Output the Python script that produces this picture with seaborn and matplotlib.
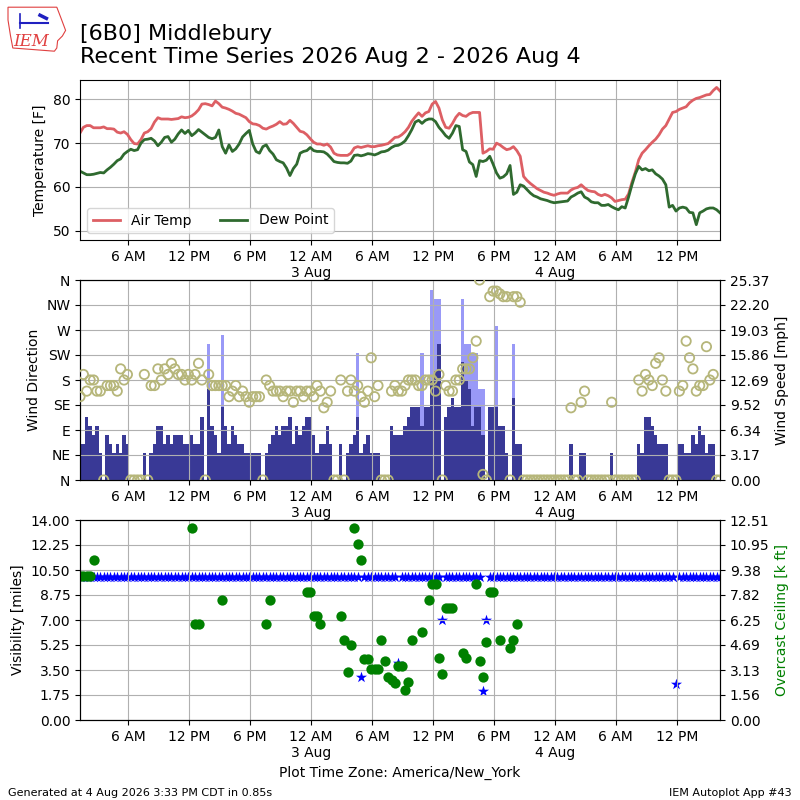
import numpy as np
import pandas as pd
import matplotlib
matplotlib.use("Agg")
import matplotlib.pyplot as plt
import matplotlib.dates as mdates
from matplotlib.ticker import FuncFormatter
from matplotlib.patches import Polygon
from matplotlib.lines import Line2D
import seaborn as sns

# observations every 20 minutes, local time (America/New_York)
START = "2026-08-02 01:15"

TEMP = [
    72.3, 73.6, 74.0, 74.0, 73.5, 73.5, 73.5, 73.7, 73.3, 73.3, 73.2, 72.5, 72.3, 72.6, 72.0, 70.8,
    69.9, 69.8, 70.8, 72.3, 72.6, 73.3, 74.8, 75.8, 75.5, 75.5, 75.5, 75.4, 75.5, 75.6, 76.0, 75.8,
    75.9, 76.2, 76.8, 77.6, 78.9, 79.0, 78.8, 78.5, 79.6, 79.0, 78.2, 78.0, 77.7, 77.3, 76.8, 76.6,
    76.2, 75.8, 74.9, 74.4, 74.3, 74.0, 73.4, 73.2, 73.6, 73.9, 74.3, 74.9, 74.3, 74.4, 75.2, 74.5,
    73.6, 72.7, 72.5, 71.9, 71.0, 70.2, 69.8, 69.8, 69.5, 69.8, 69.1, 67.7, 67.3, 67.2, 67.2, 67.2,
    67.7, 68.9, 69.2, 69.0, 69.2, 69.4, 69.2, 69.2, 69.4, 69.5, 69.7, 69.9, 70.6, 71.3, 71.4, 71.9,
    72.6, 73.6, 75.0, 76.0, 76.9, 76.1, 76.9, 77.2, 78.9, 79.5, 78.0, 75.3, 73.6, 73.4, 74.5, 75.9,
    76.8, 76.3, 76.1, 76.7, 77.0, 77.0, 77.0, 67.7, 68.1, 68.7, 68.6, 70.0, 69.6, 69.0, 68.5, 68.7,
    69.2, 68.3, 67.0, 62.4, 61.5, 60.8, 60.2, 59.6, 59.2, 58.8, 58.6, 58.3, 58.1, 58.4, 58.6, 58.6,
    58.6, 59.3, 59.7, 59.9, 60.5, 59.8, 59.2, 59.0, 58.9, 58.3, 58.0, 58.3, 58.0, 57.5, 56.7, 56.9,
    57.1, 57.2, 58.4, 61.1, 63.4, 66.2, 67.7, 68.5, 69.4, 70.2, 70.9, 71.9, 73.2, 74.0, 75.5, 77.0,
    77.2, 77.7, 78.0, 78.3, 79.2, 79.8, 80.2, 80.4, 80.7, 81.0, 81.1, 82.0, 82.7, 81.9,
]
DEWP = [
    63.6, 63.2, 62.8, 62.8, 62.9, 63.1, 63.3, 63.2, 63.9, 64.5, 65.2, 66.0, 66.4, 67.5, 68.1, 68.6,
    68.3, 68.5, 70.0, 70.8, 70.9, 71.1, 70.5, 69.4, 70.2, 71.3, 71.5, 70.2, 70.9, 72.1, 73.0, 72.2,
    72.9, 71.7, 72.3, 73.1, 72.5, 71.9, 71.3, 71.0, 71.3, 73.0, 69.2, 67.7, 69.6, 68.1, 68.7, 69.8,
    71.4, 72.2, 72.9, 69.8, 68.1, 67.7, 69.2, 69.6, 68.3, 67.5, 66.2, 65.8, 65.5, 64.3, 62.6, 64.2,
    65.2, 67.7, 68.1, 68.3, 69.0, 68.3, 68.1, 68.1, 68.0, 67.5, 66.7, 65.8, 65.6, 65.5, 65.5, 65.4,
    65.9, 67.2, 67.3, 67.1, 67.3, 67.6, 67.5, 67.3, 67.6, 68.0, 68.1, 68.4, 69.0, 69.4, 69.5, 69.9,
    70.5, 71.7, 73.1, 74.8, 75.2, 74.5, 75.2, 75.5, 75.5, 74.9, 73.6, 72.7, 71.7, 71.1, 72.3, 74.0,
    73.8, 68.5, 68.1, 65.7, 65.1, 62.4, 66.0, 65.8, 66.1, 67.0, 65.2, 63.2, 62.0, 62.3, 63.0, 64.9,
    58.3, 58.8, 60.5, 60.2, 59.4, 58.6, 58.0, 57.7, 57.3, 57.1, 56.9, 56.6, 56.4, 56.5, 56.6, 56.7,
    56.8, 57.7, 58.1, 58.6, 58.9, 57.7, 57.3, 56.6, 56.4, 56.4, 55.8, 55.8, 56.0, 55.5, 55.1, 54.8,
    55.5, 55.2, 57.7, 60.5, 63.0, 64.7, 63.9, 64.2, 63.7, 63.9, 63.0, 62.5, 61.8, 60.5, 55.4, 55.8,
    54.5, 55.2, 55.4, 55.2, 54.2, 54.1, 51.4, 54.1, 54.5, 55.0, 55.2, 55.2, 54.8, 54.1,
]
# wind speed [knots]
SKNT = [
    4, 4, 7, 6, 5, 6, 3, 0, 5, 4, 3, 4, 3, 5, 4, 0, 0, 0, 0, 3,
    0, 3, 4, 6, 6, 4, 5, 4, 5, 5, 5, 4, 4, 5, 4, 4, 7, 0, 10, 6,
    5, 3, 8, 6, 4, 6, 5, 4, 4, 3, 3, 3, 3, 3, 0, 3, 4, 5, 6, 5,
    6, 6, 7, 4, 6, 5, 6, 7, 7, 5, 3, 4, 4, 6, 4, 0, 0, 4, 0, 3,
    4, 5, 7, 3, 4, 5, 3, 3, 3, 0, 0, 0, 6, 5, 5, 5, 6, 7, 8, 8,
    8, 6, 8, 8, 11, 12, 15, 0, 7, 8, 9, 8, 8, 13, 11, 10, 6, 8, 8, 5,
    0, 8, 8, 8, 6, 6, 3, 0, 9, 4, 4, 0, 0, 0, 0, 0, 0, 0, 0, 0,
    0, 0, 0, 0, 0, 4, 0, 0, 3, 3, 0, 0, 0, 0, 0, 0, 0, 3, 0, 0,
    0, 0, 0, 0, 0, 4, 3, 7, 7, 6, 5, 4, 4, 4, 0, 0, 0, 4, 4, 3,
    3, 5, 4, 6, 5, 3, 4, 4, 0, 0,
]
# wind direction [deg]
DRCT = [
    150, 190, 160, 180, 180, 160, 160, 0, 170, 170, 170, 160, 200, 180, 190, 0, 0, 0, 0, 190,
    0, 170, 170, 200, 180, 200, 190, 210, 200, 190, 190, 180, 190, 180, 190, 210, 180, 0, 190, 170,
    170, 170, 170, 170, 150, 160, 170, 150, 160, 150, 140, 150, 150, 150, 0, 180, 170, 160, 160, 160,
    150, 160, 160, 140, 160, 160, 150, 160, 160, 150, 170, 160, 130, 140, 160, 0, 0, 180, 0, 160,
    180, 160, 170, 150, 140, 160, 220, 150, 170, 0, 0, 0, 160, 170, 160, 160, 170, 180, 180, 180,
    170, 170, 180, 180, 180, 160, 190, 0, 170, 160, 160, 180, 180, 200, 200, 200, 220, 250, 360, 10,
    0, 330, 340, 340, 335, 330, 330, 0, 330, 330, 320, 0, 0, 0, 0, 0, 0, 0, 0, 0,
    0, 0, 0, 0, 0, 130, 0, 0, 140, 160, 0, 0, 0, 0, 0, 0, 0, 140, 0, 0,
    0, 0, 0, 0, 0, 180, 160, 190, 180, 170, 210, 220, 180, 160, 0, 0, 0, 160, 170, 250,
    220, 200, 160, 170, 170, 240, 180, 190, 0, 0,
]
# observations that reported a gust: index and gust [knots]
GUST_IDX = [38, 42, 82, 101, 104, 105, 106, 113, 114, 115, 116, 117, 118, 119, 123, 128]
GUST_KT = [15, 16, 14, 14, 21, 20, 20, 20, 15, 15, 14, 14, 10, 10, 17, 15]
# visibility [miles]
VIS = [
    10, 10, 10, 10, 10, 10, 10, 10, 10, 10, 10, 10, 10, 10, 10, 10, 10, 10, 10, 10,
    10, 10, 10, 10, 10, 10, 10, 10, 10, 10, 10, 10, 10, 10, 10, 10, 10, 10, 10, 10,
    10, 10, 10, 10, 10, 10, 10, 10, 10, 10, 10, 10, 10, 10, 10, 10, 10, 10, 10, 10,
    10, 10, 10, 10, 10, 10, 10, 10, 10, 10, 10, 10, 10, 10, 10, 10, 10, 10, 10, 10,
    10, 10, 10, 3, 10, 10, 10, 10, 10, 10, 10, 10, 10, 10, 4, 10, 10, 10, 10, 10,
    10, 10, 10, 10, 10, 10, 10, 7, 10, 10, 10, 10, 10, 10, 10, 10, 10, 10, 10, 2,
    7, 10, 10, 10, 10, 10, 10, 10, 10, 10, 10, 10, 10, 10, 10, 10, 10, 10, 10, 10,
    10, 10, 10, 10, 10, 10, 10, 10, 10, 10, 10, 10, 10, 10, 10, 10, 10, 10, 10, 10,
    10, 10, 10, 10, 10, 10, 10, 10, 10, 10, 10, 10, 10, 10, 10, 10, 2.5, 10, 10, 10,
    10, 10, 10, 10, 10, 10, 10, 10, 10, 10,
]
# observations with an overcast layer: index and height [k ft]
CEIL_IDX = [0, 1, 2, 3, 4, 33, 34, 35, 42, 55, 56, 67, 68, 69, 70, 71, 77, 78, 79, 80,
            81, 82, 83, 84, 85, 86, 87, 88, 89, 90, 91, 92, 93, 94, 95, 96, 97, 98, 101, 103,
            104, 105, 106, 107, 108, 109, 110, 113, 114, 117, 118, 119, 120, 121, 122, 124, 127, 128, 129]
CEIL_KFT = [9.0, 9.0, 9.0, 9.0, 10.0, 12.0, 6.0, 6.0, 7.5, 6.0, 7.5, 8.0, 8.0, 6.5, 6.5, 6.0, 6.5, 5.0, 3.0, 4.7,
            12.0, 11.0, 10.0, 3.8, 3.8, 3.2, 3.2, 3.2, 5.0, 3.7, 2.7, 2.5, 2.3, 3.4, 3.4, 1.9, 2.4, 5.0, 5.5, 7.5,
            8.5, 8.5, 3.9, 2.9, 7.0, 7.0, 7.0, 4.2, 3.9, 8.5, 3.7, 2.7, 4.9, 8.0, 8.0, 5.0, 4.5, 5.0, 6.0]

KT2MPH = 1.15078
DIR_LABELS = ["N", "NE", "E", "SE", "S", "SW", "W", "NW", "N"]

times = pd.date_range(START, periods=len(TEMP), freq="20min")
df = pd.DataFrame({"valid": times, "tmpf": TEMP, "dwpf": DEWP,
                   "sknt": SKNT, "drct": DRCT, "vsby": VIS})
df["smph"] = df["sknt"] * KT2MPH
gust = np.full(len(df), np.nan)
gust[GUST_IDX] = GUST_KT
df["gmph"] = gust * KT2MPH
cdf = pd.DataFrame({"valid": times[CEIL_IDX], "ceil": CEIL_KFT})


def time_fmt(x, pos=None):
    dt = mdates.num2date(x)
    lbl = dt.strftime("%-I %p")
    if dt.hour == 0:
        lbl += "\n" + dt.strftime("%-d %b")
    return lbl


def setup_time(ax):
    ax.xaxis.set_major_locator(mdates.HourLocator(byhour=[0, 6, 12, 18]))
    ax.xaxis.set_major_formatter(FuncFormatter(time_fmt))
    ax.set_xlim(times[0], times[-1])
    ax.set_xlabel("")


plt.rcParams["font.family"] = ["DejaVu Sans"]
fig = plt.figure(figsize=(8, 8), dpi=100)

# --- temperature panel
ax1 = fig.add_axes([0.1, 0.7, 0.8, 0.2])
sns.lineplot(data=df, x="valid", y="tmpf", ax=ax1, color="#dd5f64", lw=2, label="Air Temp")
sns.lineplot(data=df, x="valid", y="dwpf", ax=ax1, color="#2f6a2f", lw=2, label="Dew Point")
ax1.set_ylim(47.9, 84.4)
ax1.set_yticks([50, 60, 70, 80])
ax1.set_ylabel("Temperature [F]")
ax1.grid(True)
ax1.legend(loc="lower left", ncol=2)
setup_time(ax1)

# --- wind panel
ax2 = fig.add_axes([0.1, 0.4, 0.8, 0.25])
ax2r = ax2.twinx()
width = 20.0 / 1440.0
ax2r.bar(df["valid"], df["gmph"], width=width, color="#9999f7", lw=0)
ax2r.bar(df["valid"], df["smph"], width=width, color="#393996", lw=0)
smax = np.nanmax(df["gmph"]) * 1.05
ax2r.set_ylim(0, smax)
rt = np.linspace(0, smax, 9)
ax2r.set_yticks(rt)
ax2r.set_yticklabels(["%.2f" % v for v in rt])
ax2r.set_ylabel("Wind Speed [mph]")
sns.scatterplot(data=df, x="valid", y="drct", ax=ax2, marker="o", s=45,
                facecolor="none", edgecolor="#b6b67a", linewidth=1.3, legend=False, zorder=3)
ax2.set_zorder(ax2r.get_zorder() + 1)
ax2.patch.set_visible(False)
ax2.set_ylim(0, 360)
ax2.set_yticks(np.arange(0, 361, 45))
ax2.set_yticklabels(DIR_LABELS)
ax2.set_ylabel("Wind Direction")
ax2.grid(True)
setup_time(ax2)
ax2r.set_xlim(times[0], times[-1])

# --- visibility / ceiling panel
ax3 = fig.add_axes([0.1, 0.1, 0.8, 0.25])
sns.scatterplot(data=df, x="valid", y="vsby", ax=ax3, marker="*", s=70,
                color="b", edgecolor="b", linewidth=0, legend=False)
ax3.set_ylim(0, 14)
lt = np.linspace(0, 14, 9)
ax3.set_yticks(lt)
ax3.set_yticklabels(["%.2f" % v for v in lt])
ax3.set_ylabel("Visibility [miles]")
ax3.grid(True)
setup_time(ax3)
ax3.set_xlabel("Plot Time Zone: America/New_York")
ax3r = ax3.twinx()
sns.scatterplot(data=cdf, x="valid", y="ceil", ax=ax3r, marker="o", s=55,
                color="g", edgecolor="g", linewidth=0, legend=False)
ctop = 12.51
ax3r.set_ylim(0, ctop)
ct = np.linspace(0, ctop, 9)
ax3r.set_yticks(ct)
ax3r.set_yticklabels(["%.2f" % v for v in ct])
ax3r.set_ylabel("Overcast Ceiling [k ft]", color="g")
ax3r.set_xlim(times[0], times[-1])

# --- titles and footer
fig.text(0.1, 0.916, "[6B0] Middlebury\nRecent Time Series 2026 Aug 2 - 2026 Aug 4",
         fontsize=16, va="bottom", ha="left")
fig.text(0.01, 0.005, "Generated at 4 Aug 2026 3:33 PM CDT in 0.85s", fontsize=8)
fig.text(0.99, 0.005, "IEM Autoplot App #43", fontsize=8, ha="right")

# --- small IEM logo
outline = [(0.010, 0.991), (0.071, 0.991), (0.076, 0.978), (0.082, 0.962), (0.078, 0.955),
           (0.072, 0.949), (0.071, 0.940), (0.068, 0.936), (0.016, 0.940), (0.013, 0.956),
           (0.010, 0.975)]
fig.add_artist(Polygon(outline, closed=True, fill=False, ec="#e04040", lw=0.8,
                       transform=fig.transFigure))
fig.add_artist(Line2D([0.025, 0.060], [0.971, 0.971], color="#2020c0", lw=1.5,
                      transform=fig.transFigure))
fig.add_artist(Line2D([0.025, 0.025], [0.965, 0.983], color="#2020c0", lw=1.2,
                      transform=fig.transFigure))
fig.add_artist(Line2D([0.050, 0.058], [0.981, 0.977], color="#2020c0", lw=2.5,
                      transform=fig.transFigure))
fig.text(0.017, 0.943, "IEM", fontsize=12, color="#e04040", style="italic",
         family=["DejaVu Serif"])

fig.savefig("out.png", dpi=100)
